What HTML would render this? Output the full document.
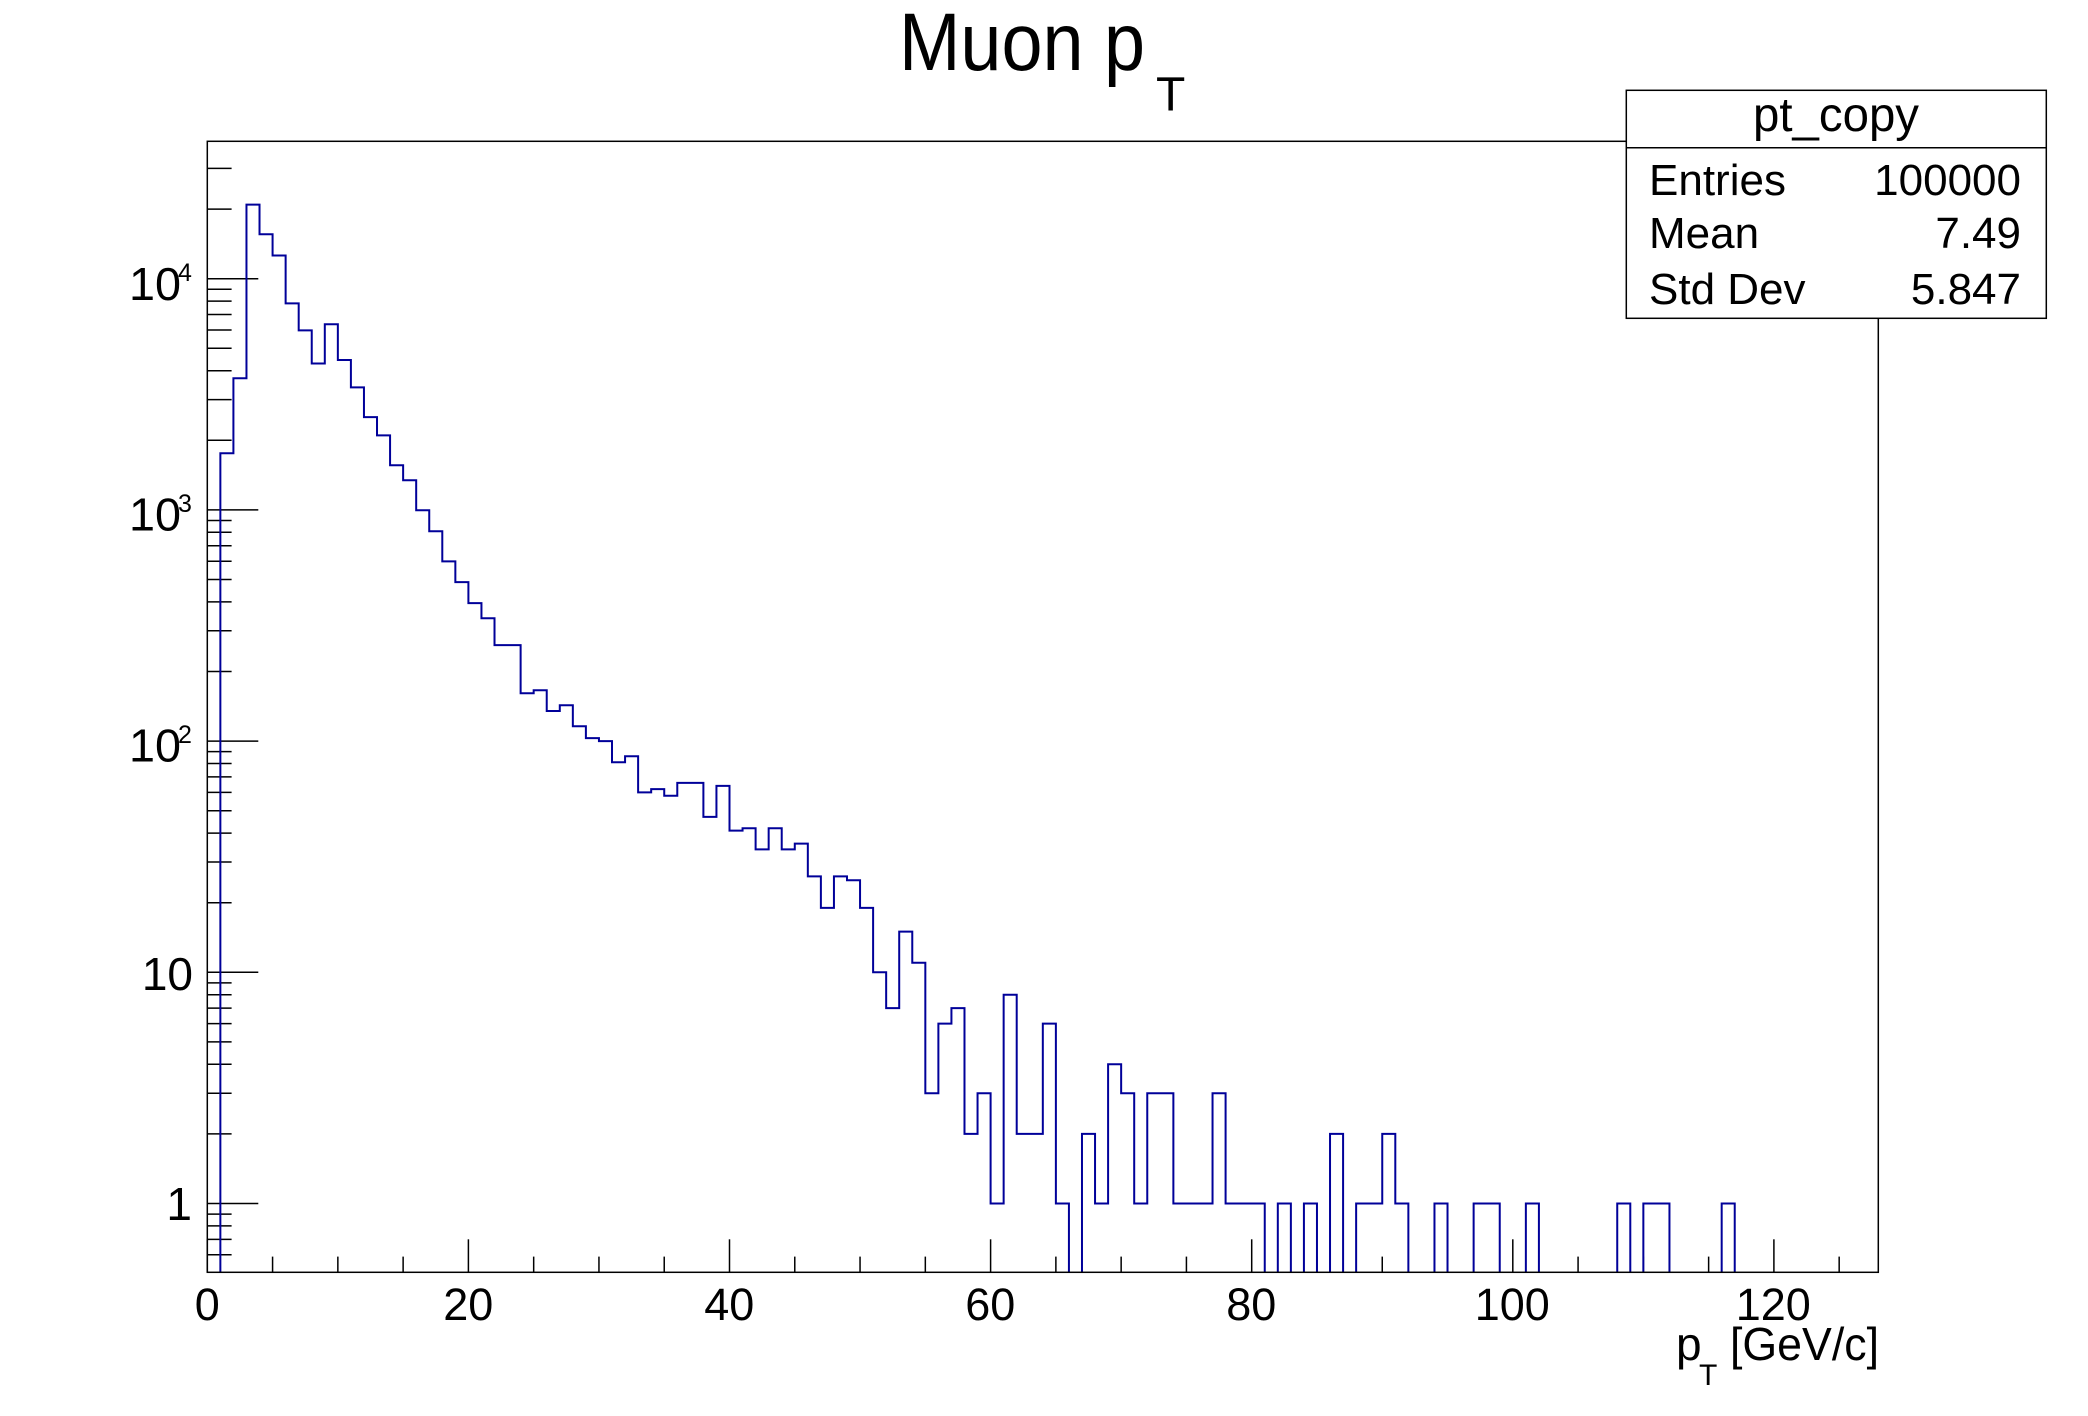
<!DOCTYPE html>
<html><head><meta charset="utf-8"><style>
html,body{margin:0;padding:0;background:#fff;}
svg{display:block;font-family:"Liberation Sans",Arial,sans-serif;}
</style></head><body>
<svg id="s" width="2088" height="1416" viewBox="0 0 2088 1416" xmlns="http://www.w3.org/2000/svg">
<rect width="2088" height="1416" fill="#fff"/>
<defs><clipPath id="c"><rect x="207.3" y="141.3" width="1671" height="1131"/></clipPath></defs>
<g id="ticks" stroke="#000" stroke-width="1.5"></g>
<path id="h" clip-path="url(#c)" fill="none" stroke="#000099" stroke-width="2"/>
<rect x="207.3" y="141.3" width="1671" height="1131" fill="none" stroke="#000" stroke-width="1.5"/>
<!-- title -->
<text x="899" y="70" font-size="82" textLength="246" lengthAdjust="spacingAndGlyphs">Muon p</text>
<text x="1156" y="110.7" font-size="48">T</text>
<!-- y labels -->
<g font-size="46" text-anchor="end">
<text x="181" y="300" textLength="52" lengthAdjust="spacingAndGlyphs">10</text>
<text x="181" y="530.5" textLength="52" lengthAdjust="spacingAndGlyphs">10</text>
<text x="181" y="761.7" textLength="52" lengthAdjust="spacingAndGlyphs">10</text>
<text x="193" y="990">10</text>
<text x="192" y="1220">1</text>
</g>
<g font-size="25">
<text x="178" y="281">4</text>
<text x="178" y="512">3</text>
<text x="178" y="743">2</text>
</g>
<!-- x labels -->
<g font-size="45" text-anchor="middle">
<text x="207.3" y="1320">0</text>
<text x="468.3" y="1320">20</text>
<text x="729.3" y="1320">40</text>
<text x="990.3" y="1320">60</text>
<text x="1251.3" y="1320">80</text>
<text x="1512.3" y="1320">100</text>
<text x="1773.3" y="1320">120</text>
</g>
<text x="1676" y="1360" font-size="46">p</text>
<text x="1699" y="1385" font-size="30">T</text>
<text x="1730" y="1360" font-size="46" textLength="149" lengthAdjust="spacingAndGlyphs">[GeV/c]</text>
<!-- stats box -->
<rect x="1626.3" y="90.3" width="420" height="228" fill="#fff" stroke="#000" stroke-width="1.5"/>
<line x1="1626.3" y1="147.7" x2="2046.3" y2="147.7" stroke="#000" stroke-width="1.5"/>
<text x="1836" y="131" font-size="48" text-anchor="middle" textLength="166" lengthAdjust="spacingAndGlyphs">pt_copy</text>
<g font-size="44">
<text x="1649" y="195">Entries</text>
<text x="1649" y="248">Mean</text>
<text x="1649" y="304">Std Dev</text>
</g>
<g font-size="44" text-anchor="end">
<text x="2021" y="195">100000</text>
<text x="2021" y="248">7.49</text>
<text x="2021" y="304">5.847</text>
</g>
</svg>
<script>
(function(){
var X0=207.3,PX=13.055,Y1=1203.5,DEC=231.2,YB=1272.3,YT=141.3;
function xv(v){return X0+PX*v;}
function yv(v){return v<=0?YB+50:Y1-DEC*Math.log10(v);}
var vals=[0,1758,3710,20900,15560,12600,7820,5980,4300,6350,4450,3390,2520,2100,1560,1343,996,808,599,487,395,340,260,260,161,166,135,143,116,103,100,81,86,60,62,58,66,66,47,64,41,42,34,42,34,36,26,19,26,25,19,10,7,15,11,3,6,7,2,3,1,8,2,2,6,1,0,2,1,4,3,1,3,3,1,1,1,3,1,1,1,0,1,0,1,0,2,0,1,1,2,1,0,0,1,0,0,1,1,0,0,1];
while(vals.length<128)vals.push(0);
vals[108]=1;vals[110]=1;vals[111]=1;vals[116]=1;
var d="M"+xv(0)+" "+(YB+50);
for(var i=0;i<128;i++){var y=yv(vals[i]);d+=" L"+xv(i).toFixed(2)+" "+y.toFixed(2)+" L"+xv(i+1).toFixed(2)+" "+y.toFixed(2);}
d+=" L"+xv(128).toFixed(2)+" "+(YB+50);
document.getElementById("h").setAttribute("d",d);
var g=document.getElementById("ticks"),s="";
function ln(a,b,c,e){s+='<line x1="'+a+'" y1="'+b+'" x2="'+c+'" y2="'+e+'"/>';}
for(var v=0;v<=125;v+=5){var x=xv(v);ln(x,YB,x,YB-(v%20==0?33:15.7));}
for(var p=-1;p<=4;p++){for(var m=1;m<10;m++){var val=m*Math.pow(10,p);var y=yv(val);if(y>YB||y<YT)continue;ln(X0,y,X0+(m==1?51:24.3),y);}}
g.innerHTML=s;
})();
</script>
</body></html>
